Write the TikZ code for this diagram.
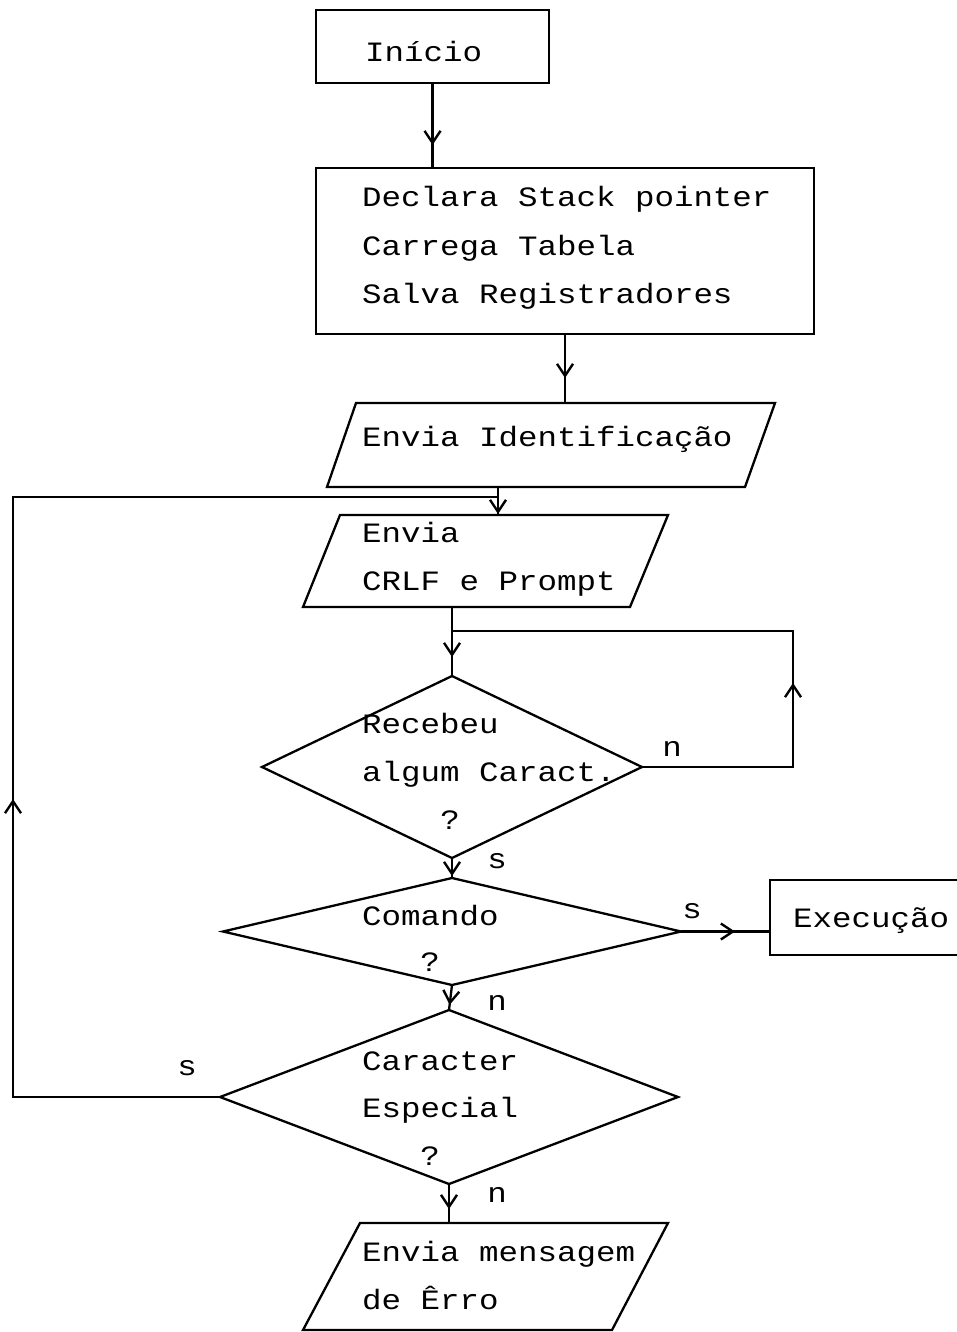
\documentclass[tikz,border=0pt]{standalone}
\usepackage{fontspec}
\usetikzlibrary{shapes.geometric,arrows.meta,decorations.markings}
\newfontfamily\typewriterfont[FakeStretch=1.16]{Liberation Mono}
\begin{document}
\begin{tikzpicture}[x=1pt,y=-1pt,
  flow/.style={draw, line width=2.3pt, inner sep=0pt, outer sep=0pt},
  procbox/.style={flow, rectangle},
  decision/.style={flow, diamond},
  iobox/.style={line width=2.3pt, line join=miter},
  txt/.style={font=\typewriterfont\fontsize{28}{34}\selectfont, inner sep=0pt, anchor=base west},
  lab/.style={font=\typewriterfont\fontsize{28}{34}\selectfont, inner sep=0pt, anchor=base},
  link/.style={line width=2.3pt},
  tipat/.style={postaction={decorate}, decoration={markings,
    mark=at position #1 with {\arrow{Straight Barb[length=12pt,width=16pt,line width=2.4pt]}}}}
]
\useasboundingbox (0,0) rectangle (956,1332);

% process boxes
\node[procbox, minimum width=233pt, minimum height=73pt] (start) at (432.5,46.5) {};
\node[procbox, minimum width=498pt, minimum height=166pt] (init) at (565,251) {};
\node[procbox, minimum width=230pt, minimum height=75pt] (exec) at (885,917.5) {};

% input / output boxes (parallelograms)
\coordinate (identNW) at (356,403);  \coordinate (identNE) at (775,403);
\coordinate (identSE) at (745,487);  \coordinate (identSW) at (327,487);
\draw[iobox] (identNW) -- (identNE) -- (identSE) -- (identSW) -- cycle;

\coordinate (promptNW) at (340,515); \coordinate (promptNE) at (668,515);
\coordinate (promptSE) at (630,607); \coordinate (promptSW) at (303,607);
\draw[iobox] (promptNW) -- (promptNE) -- (promptSE) -- (promptSW) -- cycle;

\coordinate (erroNW) at (360,1223);  \coordinate (erroNE) at (668,1223);
\coordinate (erroSE) at (612,1330);  \coordinate (erroSW) at (303,1330);
\draw[iobox] (erroNW) -- (erroNE) -- (erroSE) -- (erroSW) -- cycle;

% decisions
\node[decision, minimum width=380pt, minimum height=182pt] (recv) at (452,767) {};
\node[decision, minimum width=458pt, minimum height=107pt] (cmd) at (452,931.5) {};
\node[decision, minimum width=458pt, minimum height=174pt] (spec) at (449,1097) {};

% texts
\node[txt] (tstart) at (365,62) {Início};
\node[txt] (tinit1) at (362,207) {Declara Stack pointer};
\node[txt] (tinit2) at (362,255) {Carrega Tabela};
\node[txt] (tinit3) at (362,303) {Salva Registradores};
\node[txt] (tident) at (362,446) {Envia Identificação};
\node[txt] (tprompt1) at (362,542) {Envia};
\node[txt] (tprompt2) at (362,590) {CRLF e Prompt};
\node[txt] (trecv1) at (362,733) {Recebeu};
\node[txt] (trecv2) at (362,781) {algum Caract.};
\node[lab] (trecv3) at (450,829) {?};
\node[txt] (tcmd1) at (362,925) {Comando};
\node[lab] (tcmd2) at (430,971) {?};
\node[txt] (texec) at (793,927) {Execução};
\node[txt] (tspec1) at (362,1070) {Caracter};
\node[txt] (tspec2) at (362,1117) {Especial};
\node[lab] (tspec3) at (430,1165) {?};
\node[txt] (terro1) at (362,1261) {Envia mensagem};
\node[txt] (terro2) at (362,1309) {de Êrro};

% branch labels
\node[lab] (lrecvn) at (672,756) {n};
\node[lab] (lrecvs) at (497,868) {s};
\node[lab] (lcmds) at (692,918) {s};
\node[lab] (lcmdn) at (497,1010) {n};
\node[lab] (lspecs) at (187,1075) {s};
\node[lab] (lspecn) at (497,1202) {n};

% junction points of the loops
\coordinate (jtop) at (498,497);
\coordinate (jrecv) at (452,631);
\coordinate (lcorner) at (13,497);
\coordinate (rcorner) at (793,631);

% connectors
\draw[link, tipat=62pt] (start.south) -- (start.south |- init.north);
\draw[link, tipat=44pt] (init.south) -- (init.south |- identNW);
\draw[link, tipat=27pt] (jtop |- identSW) -- (jtop |- promptNW);
\draw[link, tipat=50pt] (jrecv |- promptSW) -- (recv.north);
\draw[link, tipat=18pt] (recv.south) -- (cmd.north);
\draw[link, tipat=54pt] (cmd.east) -- (cmd.east -| exec.west);
\draw[link, tipat=20pt] (cmd.south) -- (spec.north);
\draw[link, tipat=25pt] (spec.south) -- (spec.south |- erroNW);

% "n" loop back to the reception test
\draw[link, tipat=235pt] (recv.east) -| (rcorner) -- (jrecv);
% "s" loop back to the prompt
\draw[link, tipat=505pt] (spec.west) -| (lcorner) -- (jtop);
\end{tikzpicture}
\end{document}
